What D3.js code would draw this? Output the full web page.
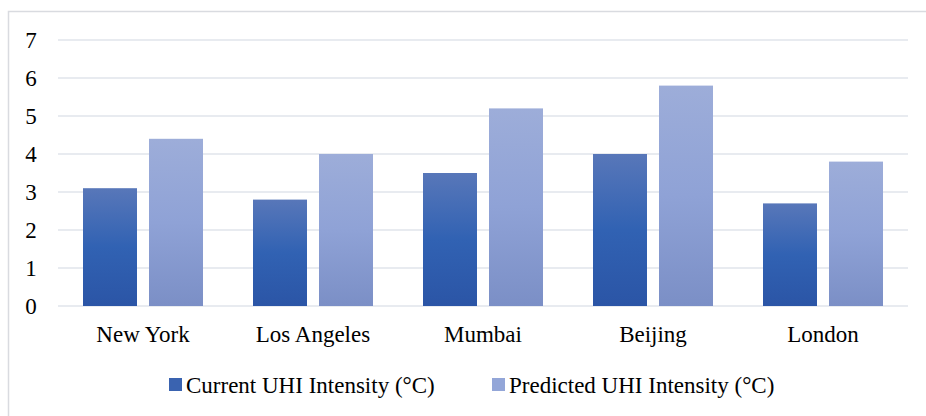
<!DOCTYPE html>
<html><head><meta charset="utf-8">
<script src="https://cdn.jsdelivr.net/npm/d3@7"></script>
<style>body{margin:0;background:#fff;} svg{display:block;}</style>
</head><body>
<svg id="c" width="926" height="416"></svg>
<script>
const categories = ["New York","Los Angeles","Mumbai","Beijing","London"];
const seriesNames = ["Current UHI Intensity (°C)","Predicted UHI Intensity (°C)"];
const currentUHI = [3.1, 2.8, 3.5, 4.0, 2.7];
const predictedUHI = [4.4, 4.0, 5.2, 5.8, 3.8];
const yTicks = [0,1,2,3,4,5,6,7];
const FONT = "Liberation Serif, Times New Roman, serif";

const svg = d3.select("#c");
const defs = svg.append("defs");
const g1 = defs.append("linearGradient").attr("id","gCur").attr("x1",0).attr("y1",0).attr("x2",0).attr("y2",1);
g1.append("stop").attr("offset","0%").attr("stop-color","#5877b9");
g1.append("stop").attr("offset","50%").attr("stop-color","#3162b3");
g1.append("stop").attr("offset","100%").attr("stop-color","#2b55a6");
const g2 = defs.append("linearGradient").attr("id","gPre").attr("x1",0).attr("y1",0).attr("x2",0).attr("y2",1);
g2.append("stop").attr("offset","0%").attr("stop-color","#9dadd9");
g2.append("stop").attr("offset","50%").attr("stop-color","#8fa2d6");
g2.append("stop").attr("offset","100%").attr("stop-color","#7b8fc6");
const fills = ["url(#gCur)","url(#gPre)"];
const legendFills = ["#3a63b0","#93a6d8"];

svg.append("rect").attr("x",8.5).attr("y",11.5).attr("width",940).attr("height",420)
  .attr("fill","none").attr("stroke","#d9dbe0").attr("stroke-width",1.5);

const x = d3.scaleBand().domain(categories).range([58,908]);
const y = d3.scaleLinear().domain([0,7]).range([306,40]);

svg.append("g").selectAll("line").data(yTicks).join("line")
  .attr("x1",58).attr("x2",908).attr("y1",d=>y(d)).attr("y2",d=>y(d))
  .attr("stroke","#e1e4eb").attr("stroke-width",1.6);

svg.append("g").selectAll("text").data(yTicks).join("text")
  .attr("x",31).attr("y",d=>y(d)).attr("dy","0.35em").attr("text-anchor","middle")
  .style("font-family",FONT).style("font-size","23px").attr("fill","#000").text(d=>d);

const barW = 54, gap = 12;
const series = [currentUHI, predictedUHI];
series.forEach((vals,si)=>{
  svg.append("g").selectAll("rect").data(categories).join("rect")
    .attr("x",(c)=>x(c)+x.bandwidth()/2 + (si===0 ? -gap/2-barW : gap/2))
    .attr("y",(c,i)=>y(vals[i]))
    .attr("width",barW)
    .attr("height",(c,i)=>y(0)-y(vals[i]))
    .attr("fill",fills[si]);
});

svg.append("g").selectAll("text").data(categories).join("text")
  .attr("x",c=>x(c)+x.bandwidth()/2).attr("y",342).attr("text-anchor","middle")
  .style("font-family",FONT).style("font-size","23px").attr("fill","#000").text(c=>c);

const legX = [169,492];
seriesNames.forEach((n,i)=>{
  svg.append("rect").attr("x",legX[i]).attr("y",378).attr("width",13).attr("height",13).attr("fill",legendFills[i]);
  svg.append("text").attr("x",legX[i]+17).attr("y",393)
    .style("font-family",FONT).style("font-size","23px").attr("fill","#000").text(n);
});
</script>
</body></html>
